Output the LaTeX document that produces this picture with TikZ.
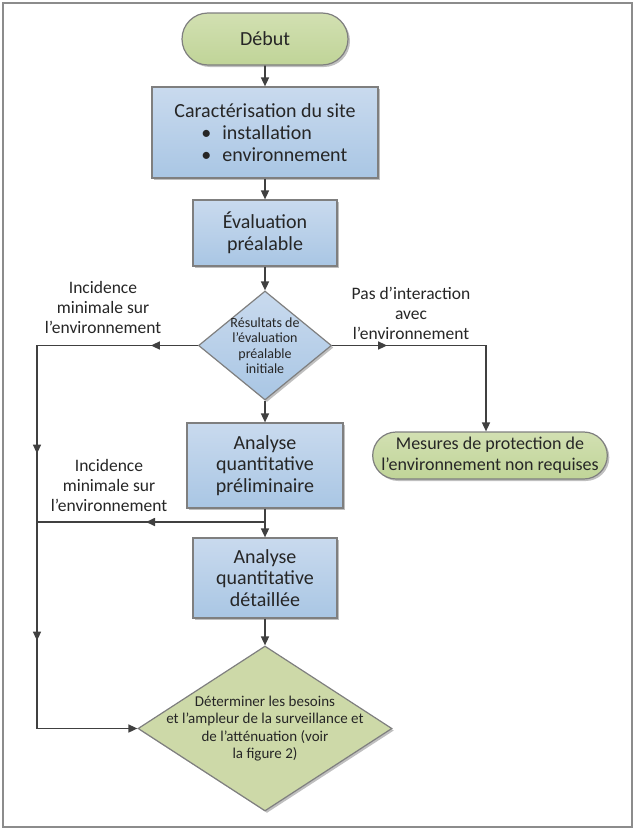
\documentclass[tikz,border=0pt]{standalone}
\usepackage{fontspec}
\setmainfont{Carlito}
\usetikzlibrary{shapes.geometric,shapes.misc,arrows.meta,decorations.markings,shadows}
\definecolor{txt}{HTML}{262626}
\definecolor{ln}{HTML}{404040}
\definecolor{bord}{HTML}{7F7F7F}
\definecolor{frm}{HTML}{8C8C8C}
\definecolor{blueT}{HTML}{C9DAEE}
\definecolor{blueB}{HTML}{A9C6E4}
\definecolor{greenT}{HTML}{D2E0B2}
\definecolor{greenB}{HTML}{C0D498}
\definecolor{greenD}{HTML}{CDD9A8}
\tikzset{
  tip/.tip={Triangle[length=9pt,width=8pt]},
}
\begin{document}
\begin{tikzpicture}[x=1pt,y=-1pt,
  every node/.style={text=txt},
  sh/.style={drop shadow={shadow xshift=2pt,shadow yshift=-2pt,opacity=0.25,fill=black}},
  term/.style={rounded rectangle,draw=bord,line width=1.2pt,top color=greenT,bottom color=greenB,sh,inner sep=0pt,align=center},
  stepbox/.style={rectangle,draw=bord,line width=1.2pt,top color=blueT,bottom color=blueB,sh,inner sep=0pt,align=center,font=\fontsize{20}{21.5}\selectfont},
  decbox/.style={diamond,draw=bord,line width=1.2pt,sh,inner sep=0pt},
  lbl/.style={align=center,font=\fontsize{17.5}{20}\selectfont},
  conn/.style={draw=ln,line width=1.6pt},
  arr/.style={conn,-tip},
  marks/.style={postaction={decorate},decoration={markings,#1}},
]
\useasboundingbox (0,0) rectangle (635,830);
\draw[frm,line width=1.5pt] (3,3) rectangle (632,827);

% nodes
\node[term,minimum width=166,minimum height=52,font=\fontsize{20}{22}\selectfont] (start) at (265,39) {Début};
\node[stepbox,minimum width=226,minimum height=91,font=\fontsize{20}{22}\selectfont,align=left] (car) at (265,132.5)
  {Caractérisation du site\\\hspace*{27pt}\textbullet\hspace{11pt}installation\\\hspace*{27pt}\textbullet\hspace{11pt}environnement};
\node[stepbox,minimum width=144,minimum height=66] (eva) at (265,233) {Évaluation\\préalable};
\node[decbox,minimum width=133,minimum height=109,top color=blueT,bottom color=blueB] (d1) at (265,345.5) {};
\node[align=center,font=\fontsize{14}{15.5}\selectfont] (d1t) at (265,345.5) {Résultats de\\l’évaluation\\préalable\\initiale};
\node[stepbox,minimum width=156,minimum height=85] (aqp) at (265,465.5) {Analyse\\quantitative\\préliminaire};
\node[stepbox,minimum width=144,minimum height=80] (aqd) at (265,578) {Analyse\\quantitative\\détaillée};
\node[decbox,minimum width=254,minimum height=165,fill=greenD] (d2) at (265,728.5) {};
\node[align=center,font=\fontsize{15}{17.5}\selectfont] (d2t) at (265,728.5)
  {Déterminer les besoins\\et l’ampleur de la surveillance et\\de l’atténuation (voir\\la figure 2)};
\node[term,minimum width=224,minimum height=47,font=\fontsize{18}{21}\selectfont] (t2) at (490,455.5)
  {Mesures de protection de\\l’environnement non requises};

% labels
\node[lbl] (lab1) at (103,307) {Incidence\\minimale sur\\l’environnement};
\node[lbl] (lab2) at (411,313) {Pas d’interaction\\avec\\l’environnement};
\node[lbl] (lab3) at (109,485) {Incidence\\minimale sur\\l’environnement};

% helper coordinates
\coordinate (L1) at (37,345.5);
\coordinate (L2) at (37,728.5);
\coordinate (R1) at (486,345.5);
\coordinate (J) at (265,522);
\coordinate (L3) at (37,522);

% connectors
\draw[arr] (start) -- (car);
\draw[arr] (car) -- (eva);
\draw[arr] (eva) -- (d1);
\draw[arr] (d1) -- (aqp);
\draw[arr] (aqp) -- (aqd);
\draw[arr] (aqd) -- (d2);
\draw[arr,marks={mark=at position 47pt with {\arrow{tip}},mark=at position 269pt with {\arrow{tip}},mark=at position 456pt with {\arrow{tip}}}]
  (d1.west) -- (L1) -- (L2) -- (d2.west);
\draw[conn,marks={mark=at position 119pt with {\arrow{tip}}}] (J) -- (L3);
\draw[arr,marks={mark=at position 55pt with {\arrow{tip}}}] (d1.east) -- (R1) -- (R1 |- t2.north);
\end{tikzpicture}
\end{document}
